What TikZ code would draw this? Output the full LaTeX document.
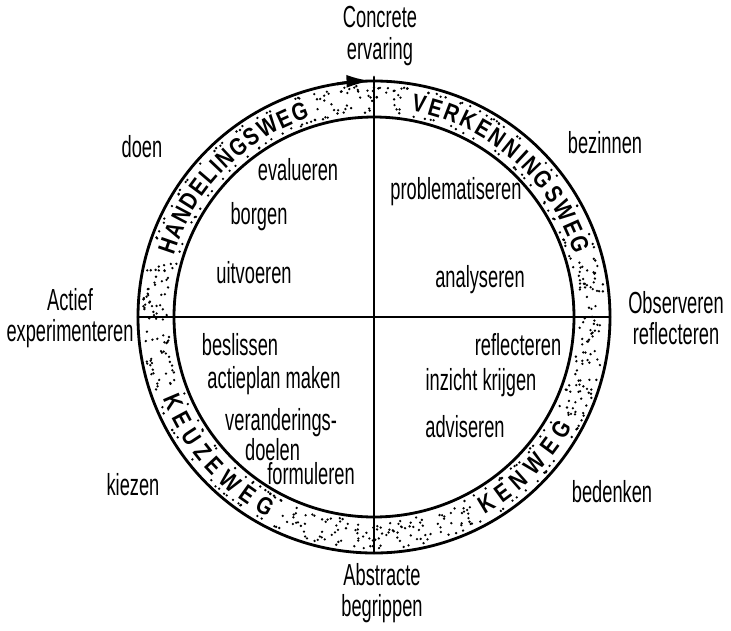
\documentclass[tikz,border=0pt]{standalone}
\usepackage{fontspec}
\newfontfamily\handfont[FakeStretch=0.6]{Liberation Sans}
\newfontfamily\ringletter[FakeStretch=0.82]{Liberation Sans}
\usetikzlibrary{calc,arrows.meta}

\begin{document}
\begin{tikzpicture}[line join=round, line cap=round, x=0.03cm, y=0.03cm,
	lbl/.style={font=\handfont\fontsize{26}{27}\selectfont, align=center, inner sep=0pt},
	ringch/.style={font=\ringletter\bfseries\fontsize{21}{21}\selectfont, inner sep=0pt}]
	% Vòng
	\def\bkn{236}
	\def\bkt{200}
	\def\bkc{218}
	\useasboundingbox (-374,-313) rectangle (357,317);
	\coordinate (O) at (0,0);
	% Chấm trong vòng
	\pgfmathsetseed{12}
	\foreach \ga/\gb/\m in {82/106/55,165/199/80,245/297/120,333/375/100}{
		\foreach \k in {1,...,\m}{
			\pgfmathsetmacro\gg{\ga+rnd*(\gb-\ga)}
			\pgfmathsetmacro\rr{\bkt+4+rnd*(\bkn-\bkt-8)}
			\fill (\gg:\rr) circle (1.3);
		}
	}
	\foreach \ga/\gb/\m in {106/165/25,15/82/28,199/245/20,297/333/16}{
		\foreach \k in {1,...,\m}{
			\pgfmathsetmacro\gg{\ga+rnd*(\gb-\ga)}
			\pgfmathsetmacro\rr{\bkn-4-rnd*2}
			\fill (\gg:\rr) circle (1.3);
			\pgfmathsetmacro\gg{\ga+rnd*(\gb-\ga)}
			\pgfmathsetmacro\rr{\bkt+4+rnd*2}
			\fill (\gg:\rr) circle (1.3);
		}
	}
	\draw[line width=2.4pt] (O) circle (\bkn) (O) circle (\bkt);
	\draw[line width=2.4pt] (-\bkn,0) -- (\bkn,0) (0,-\bkn) -- (0,\bkn+4);
	\draw[line width=2.4pt,-{Latex[length=21pt,width=11pt]}] (99:\bkn) arc (99:90.7:\bkn);
	% Chữ trên vòng
	\foreach \c/\g [count=\i] in {H/161,A/156.57,N/152.14,D/147.71,E/143.43,L/139.43,I/136.42,N/133.12,G/128.55,S/124.12,W/119.27,E/114.42,G/109.99}
		\node[ringch, rotate=\g-90] (hw\i) at (\g:\bkc) {\c};
	\foreach \c/\g [count=\i] in {V/78,E/73.63,R/69.12,K/64.46,E/59.95,N/55.44,N/50.78,I/47.31,N/43.84,G/39.03,S/34.37,W/29.26,E/24.15,G/19.49}
		\node[ringch, rotate=\g-90] (vw\i) at (\g:\bkc) {\c};
	\foreach \c/\g [count=\i] in {K/203,E/208.14,U/213.28,Z/218.25,E/223.05,W/228.87,E/234.69,G/240}
		\node[ringch, rotate=\g+90] (kz\i) at (\g:\bkc) {\c};
	\foreach \c/\g [count=\i] in {K/301,E/306.25,N/311.5,W/317.62,E/323.57,G/329}
		\node[ringch, rotate=\g+90] (kw\i) at (\g:\bkc) {\c};
	% Chữ ngoài
	\node[lbl] (ce) at (6,281) {Concrete\\ervaring};
	\node[lbl] (ab) at (8,-276) {Abstracte\\begrippen};
	\node[lbl] (ae) at (-304,-1) {Actief\\experimenteren};
	\node[lbl] (or) at (302,-1) {Observeren\\reflecteren};
	\node[lbl] (doen) at (-232,170) {doen};
	\node[lbl] (bez) at (231,174) {bezinnen};
	\node[lbl] (kie) at (-241,-168) {kiezen};
	\node[lbl] (bed) at (238,-175) {bedenken};
	% Chữ trong
	\node[lbl] (eva) at (-76,147) {evalueren};
	\node[lbl] (bor) at (-115,100) {borgen};
	\node[lbl] (uit) at (-120,44) {uitvoeren};
	\node[lbl] (pro) at (82,125) {problematiseren};
	\node[lbl] (ana) at (106,37) {analyseren};
	\node[lbl] (bes) at (-134,-28) {beslissen};
	\node[lbl] (act) at (-100,-64) {actieplan maken};
	\node[lbl, align=left, anchor=west, font=\handfont\fontsize{26}{21}\selectfont] (ver) at (-149,-130) {veranderings-\\\hspace{17pt}doelen\\\hspace{36pt}formuleren};
	\node[lbl] (ref) at (144,-28) {reflecteren};
	\node[lbl] (inz) at (107,-66) {inzicht krijgen};
	\node[lbl] (adv) at (91,-110) {adviseren};
\end{tikzpicture}
\end{document}
